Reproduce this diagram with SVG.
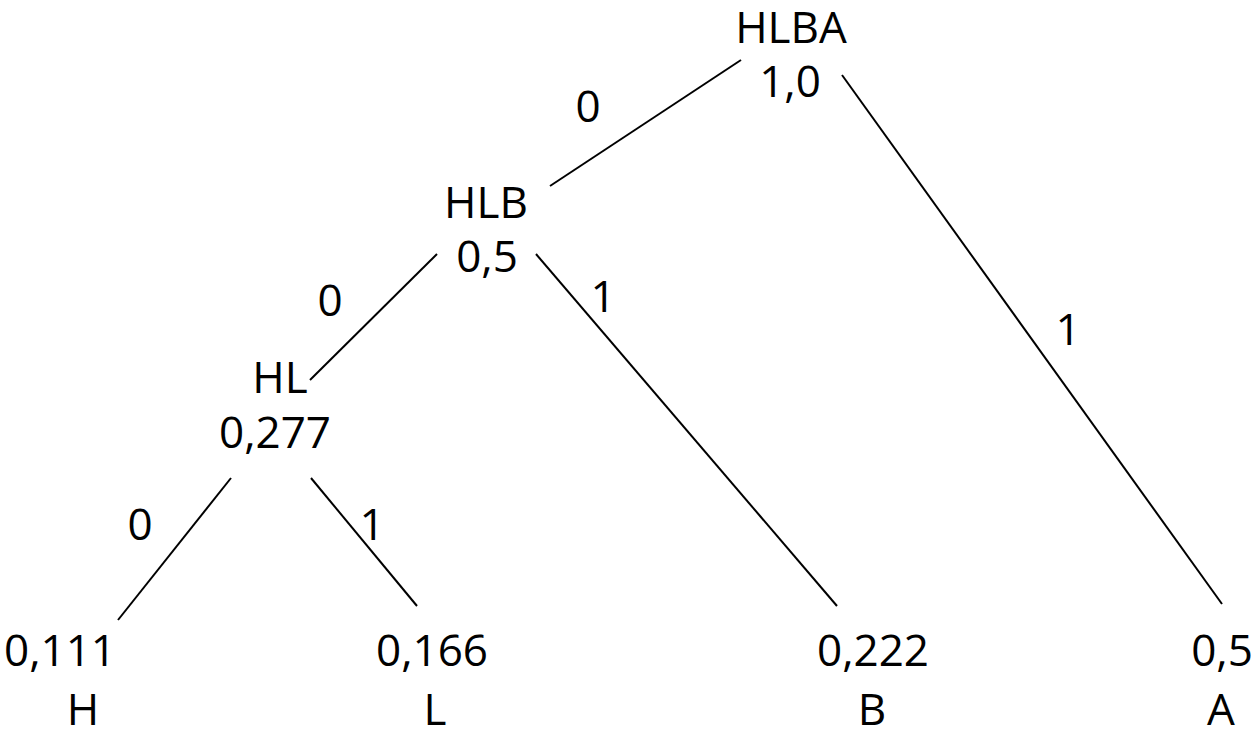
<svg xmlns="http://www.w3.org/2000/svg" width="1252" height="731" viewBox="0 0 1252 731">
<style>
text{font-family:"Open Sans","Noto Sans",sans-serif;font-size:44px;fill:#000;text-anchor:middle}
line{stroke:#000;stroke-width:2}
</style>
<rect width="1252" height="731" fill="#fff"/>
<g id="connectors">
<line x1="741" y1="60" x2="550" y2="186"/>
<line x1="842" y1="75" x2="1222" y2="604"/>
<line x1="437" y1="254" x2="310" y2="380"/>
<line x1="536" y1="254" x2="837" y2="606"/>
<line x1="231" y1="478" x2="118" y2="620"/>
<line x1="311" y1="478" x2="417" y2="606"/>
<text x="588" y="122">0</text>
<text x="1068" y="345">1</text>
<text x="330" y="316">0</text>
<text x="603" y="312">1</text>
<text x="140" y="540">0</text>
<text x="372" y="540">1</text>
</g>
<g id="n-hlba"><text x="791" y="43">HLBA</text><text x="790" y="97">1,0</text></g>
<g id="n-hlb"><text x="486" y="218">HLB</text><text x="487" y="272">0,5</text></g>
<g id="n-hl"><text x="280" y="393">HL</text><text x="275" y="448">0,277</text></g>
<g id="n-h"><text x="60" y="666">0,111</text><text x="83" y="725">H</text></g>
<g id="n-l"><text x="432" y="666">0,166</text><text x="435" y="725">L</text></g>
<g id="n-b"><text x="873" y="666">0,222</text><text x="872" y="725">B</text></g>
<g id="n-a"><text x="1222" y="666">0,5</text><text x="1221" y="725">A</text></g>
</svg>
